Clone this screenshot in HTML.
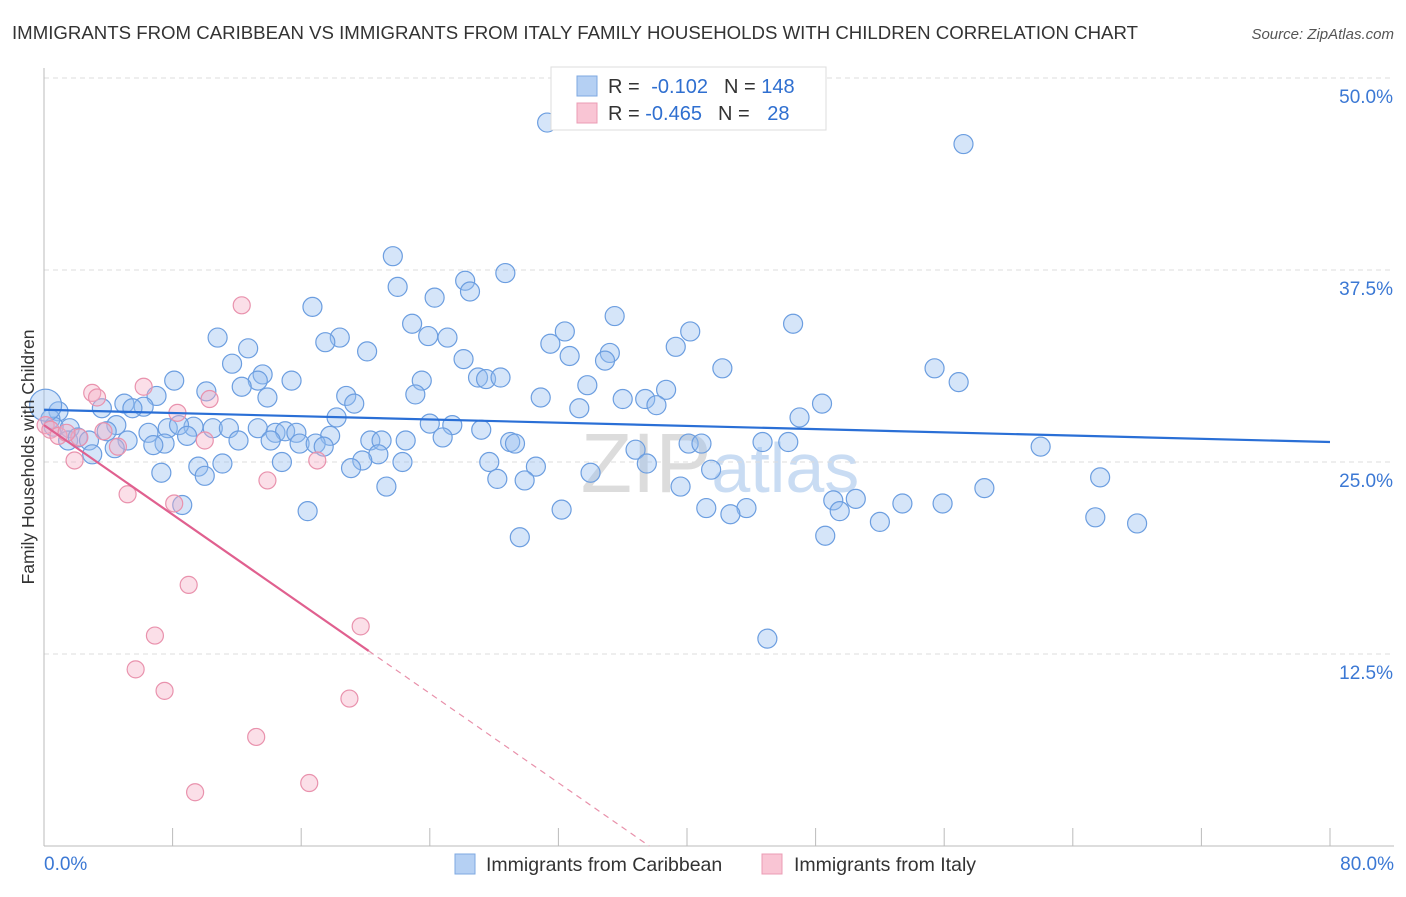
<!DOCTYPE html>
<html><head><meta charset="utf-8"><style>
body{margin:0;background:#fff;font-family:"Liberation Sans",sans-serif;}
svg text{font-family:"Liberation Sans",sans-serif;}
</style></head><body>
<svg id="chart" width="1406" height="892" xmlns="http://www.w3.org/2000/svg">
<text x="12" y="39" font-size="18.6" fill="#333" textLength="1126" lengthAdjust="spacingAndGlyphs">IMMIGRANTS FROM CARIBBEAN VS IMMIGRANTS FROM ITALY FAMILY HOUSEHOLDS WITH CHILDREN CORRELATION CHART</text>
<text x="1394" y="39" font-size="15" fill="#555" text-anchor="end" font-style="italic">Source: ZipAtlas.com</text>
<text x="720" y="492" font-size="84" fill="#e4e4e4" text-anchor="middle" font-family="Liberation Serif"><tspan fill="#dcdcdc">ZIP</tspan><tspan fill="#c9dcf3" font-family="Liberation Sans" font-size="70">atlas</tspan></text>
<g id="grid"></g>
<g id="axes"></g>
<g id="pts"></g>
<g id="lines"></g>
<text transform="translate(34,457) rotate(-90)" font-size="17.5" fill="#333" text-anchor="middle">Family Households with Children</text>
<g>
<rect x="551" y="67" width="275" height="63" fill="#fff" stroke="#ddd"/>
<rect x="577" y="76" width="20" height="20" fill="#b5d0f3" stroke="#7ea8e2"/>
<rect x="577" y="103" width="20" height="20" fill="#f9c5d4" stroke="#eb9cb4"/>
<text x="608" y="93" font-size="20" fill="#333">R = <tspan fill="#2f6fd0" dx="6">-0.102</tspan><tspan fill="#333" dx="16">N = </tspan><tspan fill="#2f6fd0">148</tspan></text>
<text x="608" y="120" font-size="20" fill="#333">R = <tspan fill="#2f6fd0">-0.465</tspan><tspan fill="#333" dx="16">N = </tspan><tspan fill="#2f6fd0" dx="12">28</tspan></text>
</g>
<g>
<rect x="455" y="854" width="20" height="20" fill="#b5d0f3" stroke="#7ea8e2"/>
<text x="486" y="871" font-size="19.5" fill="#333">Immigrants from Caribbean</text>
<rect x="762" y="854" width="20" height="20" fill="#f9c5d4" stroke="#eb9cb4"/>
<text x="794" y="871" font-size="19.5" fill="#333">Immigrants from Italy</text>
</g>
</svg>
<script>
const blueX=[31.3,57.2,21.7,28.7,26.2,22.0,26.5,24.3,16.7,35.5,22.9,46.6,32.4,40.2,10.8,18.4,23.9,25.1,17.5,31.5,12.7,39.3,20.1,35.2,32.7,34.9,26.1,11.7,27.0,42.2,55.4,13.6,8.1,15.4,23.5,27.5,28.4,13.3,56.9,12.3,33.8,38.7,10.1,7.0,23.1,18.8,13.9,30.9,5.0,36.0,37.4,19.3,6.2,48.4,5.5,3.6,33.3,38.1,0.9,47.0,7.7,13.3,18.2,0.4,4.5,9.3,10.5,24.0,25.4,0.6,1.6,8.4,11.5,6.5,3.9,14.4,15.0,15.7,27.2,8.9,17.8,1.5,2.1,2.8,5.2,7.5,12.1,14.1,15.9,16.9,20.3,21.0,22.5,24.8,29.0,29.3,36.8,40.1,40.9,44.7,46.3,62.0,6.8,4.4,3.0,17.4,20.8,19.8,22.3,14.8,27.7,30.6,11.1,9.6,19.1,37.5,41.5,7.3,10.0,34.0,28.2,29.9,21.3,39.6,58.5,65.7,49.1,50.5,8.6,41.2,43.7,53.4,55.9,49.5,32.2,16.4,42.7,52.0,65.4,68.0,29.6,48.6,45.0];
const blueY=[47.1,45.7,38.4,37.3,36.8,36.4,36.1,35.7,35.1,34.5,34.0,34.0,33.5,33.5,33.1,33.1,33.2,33.1,32.8,32.7,32.4,32.5,32.2,32.1,31.9,31.6,31.7,31.4,30.5,31.1,31.1,30.7,30.3,30.3,30.3,30.4,30.5,30.3,30.2,29.9,30.0,29.7,29.6,29.3,29.4,29.3,29.2,29.2,28.8,29.1,29.1,28.8,28.6,28.8,28.5,28.5,28.5,28.7,28.3,27.9,27.2,27.2,27.9,27.8,27.4,27.3,27.2,27.5,27.4,27.3,27.2,27.4,27.2,26.9,27.0,26.9,27.0,26.9,27.1,26.7,26.7,26.4,26.6,26.4,26.4,26.2,26.4,26.4,26.2,26.2,26.4,26.4,26.4,26.6,26.3,26.2,25.8,26.2,26.2,26.3,26.3,26.0,26.1,25.9,25.5,26.0,25.5,25.1,25.0,25.0,25.0,24.7,24.9,24.7,24.6,24.9,24.5,24.3,24.1,24.3,23.9,23.8,23.4,23.4,23.3,24.0,22.5,22.6,22.2,22.0,22.0,22.3,22.3,21.8,21.9,21.8,21.6,21.1,21.4,21.0,20.1,20.2,13.5];
const pinkX=[0.1,0.4,0.9,1.9,3.0,3.3,6.2,8.3,10.3,10.0,3.7,4.6,12.3,5.2,8.1,13.9,17.0,9.0,6.9,5.7,7.5,19.7,19.0,13.2,9.4,16.5,2.2,1.4];
const pinkY=[27.4,27.1,26.7,25.1,29.5,29.2,29.9,28.2,29.1,26.4,27.0,26.0,35.2,22.9,22.3,23.8,25.1,17.0,13.7,11.5,10.1,14.3,9.6,7.1,3.5,4.1,26.6,26.9];
const blueTrend=[28.4,26.3]; // y at x=0 and x=80
const pinkTrend=[27.4,12.7,20.2]; // y at 0, y at solid end, solid end x
const xTicks=[0,8,16,24,32,40,48,56,64,72,80];
const yTicks=[12.5,25.0,37.5,50.0];
const X0=44,X1=1330,Y0=846,Yscale=192/12.5;
const sx=v=>X0+(X1-X0)*v/80, sy=v=>Y0-v*Yscale;
const NS="http://www.w3.org/2000/svg";
function mk(tag,attrs,parent){const e=document.createElementNS(NS,tag);for(const k in attrs)e.setAttribute(k,attrs[k]);document.getElementById(parent).appendChild(e);return e;}
yTicks.forEach(t=>{
 const g=mk('line',{x1:X0,x2:1394,y1:sy(t),y2:sy(t),stroke:'#ddd','stroke-dasharray':'5,4'},'grid');
 
 
 const l=mk('text',{x:1393,y:sy(t)+25,'font-size':19,fill:'#3b78d4','text-anchor':'end'},'grid');
 l.textContent=t.toFixed(1)+'%';
 
 
});
const ax=mk('line',{x1:X0,x2:X0,y1:68,y2:Y0,stroke:'#bbb'},'axes');


const bx=mk('line',{x1:X0,x2:1394,y1:Y0,y2:Y0,stroke:'#bbb'},'axes');


xTicks.forEach(t=>{
 const tk=mk('line',{x1:sx(t),x2:sx(t),y1:Y0,y2:Y0-18,stroke:'#bbb'},'axes');
 
 
});
[[0,'start','0.0%'],[80,'end','80.0%']].forEach(a=>{
 const l=mk('text',{x:a[0]==0?44:1394,y:870,'font-size':19,fill:'#3b78d4','text-anchor':a[1]},'axes');
 l.textContent=a[2];
 
 
});
blueX.forEach((x,i)=>{
 const c=mk('circle',{cx:sx(x),cy:sy(blueY[i]),r:9.5,fill:'rgba(150,190,240,0.4)',stroke:'#6c9ee0','stroke-width':1.2},'pts');
 
 
});
const big=mk('circle',{cx:sx(0.1),cy:sy(28.7),r:16,fill:'rgba(150,190,240,0.4)',stroke:'#6c9ee0','stroke-width':1.2},'pts');


pinkX.forEach((x,i)=>{
 const c=mk('circle',{cx:sx(x),cy:sy(pinkY[i]),r:8.5,fill:'rgba(246,175,198,0.4)',stroke:'#e992ad','stroke-width':1.2},'pts');
 
 
});
const bl=mk('line',{x1:sx(0),y1:sy(blueTrend[0]),x2:sx(80),y2:sy(blueTrend[1]),stroke:'#2a6fd6','stroke-width':2.2},'lines');


const slope=(pinkTrend[1]-pinkTrend[0])/pinkTrend[2];
const xz=-pinkTrend[0]/slope;
const pl=mk('line',{x1:sx(0),y1:sy(pinkTrend[0]),x2:sx(pinkTrend[2]),y2:sy(pinkTrend[1]),stroke:'#e0608f','stroke-width':2.2},'lines');


const pd=mk('line',{x1:sx(pinkTrend[2]),y1:sy(pinkTrend[1]),x2:sx(xz),y2:sy(0),stroke:'#e890aa','stroke-width':1.2,'stroke-dasharray':'6,5'},'lines');


</script>
</body></html>
